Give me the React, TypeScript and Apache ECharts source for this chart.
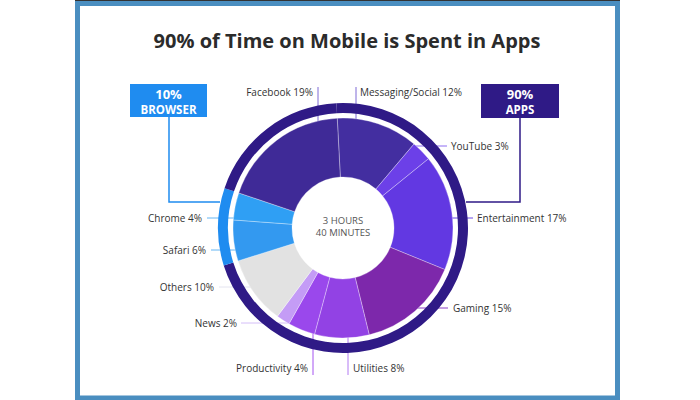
import React, { useEffect, useRef } from "react";
import * as echarts from "echarts";

// ---- data ----
const titleText = "90% of Time on Mobile is Spent in Apps";
const centerLines = ["3 HOURS", "40 MINUTES"];
const categories = [
  "Messaging/Social",
  "YouTube",
  "Entertainment",
  "Gaming",
  "Utilities",
  "Productivity",
  "News",
  "Others",
  "Safari",
  "Chrome",
  "Facebook",
];
const shares = [12, 3, 17, 15, 8, 4, 2, 10, 6, 4, 19];
const groups = ["apps", "apps", "apps", "apps", "apps", "apps", "apps", "apps", "browser", "browser", "apps"];
const groupNames: Record<string, string> = { apps: "APPS", browser: "BROWSER" };

// ---- styles ----
const sliceColors = [
  "#432ea0",
  "#6c40e8",
  "#6238e2",
  "#7d28ab",
  "#9242e4",
  "#9a48ec",
  "#c49cf6",
  "#e2e2e2",
  "#3399f0",
  "#2f9ff4",
  "#3f2a97",
];
const groupColors: Record<string, string> = { apps: "#2f1a86", browser: "#1f8cf0" };
const CX = 343;
const CY = 228;

type LL = { x: number; y: number; align: "left" | "right"; line: number[][]; color: string };
const labelLayouts: LL[] = [
  { x: 360, y: 92, align: "left", line: [[356, 142], [356, 115], [356, 87]], color: "#7f6ad6" },
  { x: 451, y: 146, align: "left", line: [[412, 146], [430, 146], [447, 146]], color: "#8d6cf2" },
  { x: 477, y: 218, align: "left", line: [[450, 218], [462, 218], [473, 218]], color: "#6a48e4" },
  { x: 453, y: 308, align: "left", line: [[416, 308], [432, 308], [448, 308]], color: "#8a3cc4" },
  { x: 353, y: 368, align: "left", line: [[348, 330], [348, 352], [348, 375]], color: "#b27af2" },
  { x: 308, y: 368, align: "right", line: [[313, 330], [313, 352], [313, 375]], color: "#a452f0" },
  { x: 237, y: 323, align: "right", line: [[290, 323], [265, 323], [241, 323]], color: "#d4bef8" },
  { x: 214, y: 287, align: "right", line: [[268, 287], [243, 287], [219, 287]], color: "#e4e4f0" },
  { x: 206, y: 250, align: "right", line: [[262, 250], [236, 250], [211, 250]], color: "#64b6f4" },
  { x: 202, y: 218, align: "right", line: [[258, 218], [232, 218], [207, 218]], color: "#64b6f4" },
  { x: 313, y: 92, align: "right", line: [[318, 142], [318, 115], [318, 87]], color: "#7f6ad6" },
];

const boxes: Record<string, { x: number; y: number; w: number; h: number; line: number[][] }> = {
  browser: { x: 130, y: 84, w: 77, h: 33, line: [[169, 117], [169, 202], [220, 202]] },
  apps: { x: 481, y: 84, w: 78, h: 34, line: [[520, 118], [520, 202], [466, 202]] },
};

export default function App() {
  const ref = useRef<HTMLDivElement>(null);
  useEffect(() => {
    if (!ref.current) return;
    const chart = echarts.init(ref.current, undefined, { renderer: "svg" });

    // ring segments built by merging consecutive slices of the same group
    const ring: { name: string; value: number; itemStyle: any }[] = [];
    shares.forEach((v, i) => {
      const g = groups[i];
      const last = ring[ring.length - 1];
      if (last && last.name === g) last.value += v;
      else ring.push({ name: g, value: v, itemStyle: { color: groupColors[g] } });
    });
    const totals: Record<string, number> = {};
    shares.forEach((v, i) => (totals[groups[i]] = (totals[groups[i]] || 0) + v));

    const boxGraphics: any[] = [];
    Object.keys(boxes).forEach((g) => {
      const b = boxes[g];
      boxGraphics.push({
        type: "polyline",
        shape: { points: b.line },
        style: { stroke: groupColors[g], lineWidth: 1.5, fill: "none" },
        z: 1,
      });
      boxGraphics.push({
        type: "rect",
        shape: { x: b.x, y: b.y, width: b.w, height: b.h },
        style: { fill: groupColors[g] },
        z: 5,
      });
      boxGraphics.push({
        type: "text",
        x: b.x + b.w / 2,
        y: b.y + 9.5,
        style: {
          text: totals[g] + "%",
          fill: "#fff",
          font: "bold 13px 'Open Sans'",
          textAlign: "center",
          textVerticalAlign: "middle",
        },
        z: 6,
      });
      boxGraphics.push({
        type: "text",
        x: b.x + b.w / 2,
        y: b.y + 25,
        style: {
          text: groupNames[g],
          fill: "#fff",
          font: "bold 11.5px 'Open Sans'",
          textAlign: "center",
          textVerticalAlign: "middle",
        },
        z: 6,
      });
    });

    chart.setOption({
      animation: false,
      textStyle: { fontFamily: "'Open Sans', sans-serif" },
      graphic: [
        {
          type: "rect",
          shape: { x: 77.5, y: 3.5, width: 540, height: 394.5 },
          style: { fill: "none", stroke: "#4a8ec0", lineWidth: 5 },
        },
        {
          type: "line",
          shape: { x1: 75, y1: 0.5, x2: 620, y2: 0.5 },
          style: { stroke: "#333", lineWidth: 1 },
        },
        {
          type: "text",
          x: 347,
          y: 40,
          style: {
            text: titleText,
            fill: "#2b2b2b",
            font: "bold 20px 'Open Sans'",
            textAlign: "center",
            textVerticalAlign: "middle",
          },
        },
        {
          type: "text",
          x: CX,
          y: CY - 8,
          style: {
            text: centerLines[0],
            fill: "#555",
            font: "9.5px 'Open Sans'",
            textAlign: "center",
            textVerticalAlign: "middle",
          },
        },
        {
          type: "text",
          x: CX,
          y: CY + 4,
          style: {
            text: centerLines[1],
            fill: "#555",
            font: "9.5px 'Open Sans'",
            textAlign: "center",
            textVerticalAlign: "middle",
          },
        },
        ...boxGraphics,
      ],
      series: [
        {
          type: "pie",
          center: [CX, CY],
          radius: [51, 110],
          startAngle: 93,
          clockwise: true,
          avoidLabelOverlap: false,
          itemStyle: { borderColor: "rgba(255,255,255,0.4)", borderWidth: 0.8 },
          label: {
            show: true,
            position: "outside",
            formatter: "{b} {c}%",
            color: "#333",
            fontSize: 10,
            fontFamily: "'Open Sans'",
          },
          labelLine: { show: true, lineStyle: { width: 1 } },
          labelLayout: (p: any) => {
            const l = labelLayouts[p.dataIndex];
            return {
              x: l.x,
              y: l.y,
              align: l.align,
              verticalAlign: "middle",
              labelLinePoints: l.line,
            };
          },
          emphasis: { disabled: true },
          data: categories.map((c, i) => ({
            name: c,
            value: shares[i],
            itemStyle: { color: sliceColors[i] },
            labelLine: { lineStyle: { color: labelLayouts[i].color } },
          })),
        },
        {
          type: "pie",
          center: [CX, CY],
          radius: [115, 125],
          startAngle: 93,
          clockwise: true,
          silent: true,
          label: { show: false },
          labelLine: { show: false },
          itemStyle: { borderWidth: 0 },
          data: ring,
        },
      ],
    });
    return () => chart.dispose();
  }, []);
  return (
    <div
      ref={ref}
      style={{ position: "fixed", left: 0, top: 0, width: 700, height: 400, background: "#fff" }}
    />
  );
}
